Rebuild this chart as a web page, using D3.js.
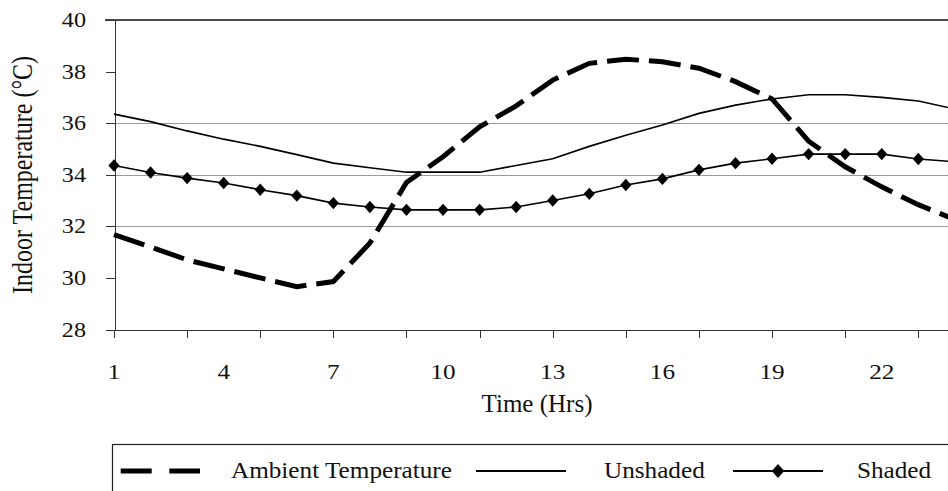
<!DOCTYPE html>
<html lang="en">
<head>
    <meta charset="UTF-8">
    <title>Indoor Temperature</title>
    <script src="https://d3js.org/d3.v7.min.js"></script>
    <style>
        html, body { margin: 0; padding: 0; background: #fff; overflow: hidden; }
        svg { display: block; }
        text { font-family: "Liberation Serif", "Times New Roman", serif; fill: #111; }
        .grid { stroke: #9a9a9a; stroke-width: 1px; }
        .axis path, .axis line { stroke: #333; stroke-width: 1px; shape-rendering: crispEdges; }
        .line { fill: none; stroke: #000; }
    </style>
</head>
<body>
<svg id="chart" width="948" height="491"></svg>

<script>
    // data, hours 1..24
    const hours = d3.range(1, 25);
    const ambient = [31.68, 31.2, 30.7, 30.35, 30.0, 29.66, 29.86, 31.35, 33.7, 34.7, 35.86, 36.67,
                     37.67, 38.32, 38.48, 38.38, 38.13, 37.61, 36.94, 35.3, 34.31, 33.53, 32.84, 32.26];
    const unshaded = [36.35, 36.06, 35.7, 35.38, 35.1, 34.78, 34.45, 34.27, 34.1, 34.1, 34.1, 34.36,
                      34.62, 35.1, 35.53, 35.93, 36.38, 36.7, 36.94, 37.1, 37.1, 37.0, 36.86, 36.55];
    const shaded = [34.36, 34.09, 33.87, 33.68, 33.42, 33.19, 32.9, 32.75, 32.64, 32.64, 32.64, 32.75,
                    33.0, 33.26, 33.6, 33.84, 34.19, 34.45, 34.62, 34.8, 34.8, 34.8, 34.61, 34.5];
    const yTicks = [28, 30, 32, 34, 36, 38, 40];
    const gridValues = [32, 34, 36];
    const xTickHours = [1, 3, 5, 7, 9, 11, 13, 15, 17, 19, 21, 23];
    const xLabelHours = [1, 4, 7, 10, 13, 16, 19, 22];
    const legendNames = ["Ambient Temperature", "Unshaded", "Shaded"];

    const svg = d3.select("#chart");

    // x(1)=114, x(23)=918.3 ; y(40)=20, y(28)=329.5
    const x = d3.scaleLinear().domain([1, 23]).range([114, 918.3]);
    const y = d3.scaleLinear().domain([28, 40]).range([329.5, 20]);

    // stretched text helper (the original fonts are a bit wider)
    function label(parent, px, py, str, size, sx, anchor) {
        return parent.append("text")
            .attr("transform", `translate(${px},${py}) scale(${sx},1)`)
            .attr("text-anchor", anchor || "middle")
            .style("font-size", size + "px")
            .text(str);
    }

    // gridlines
    svg.selectAll(".grid")
        .data(gridValues)
        .join("line")
        .attr("class", "grid")
        .attr("x1", x(1)).attr("x2", 948)
        .attr("y1", d => Math.round(y(d)) + 0.5)
        .attr("y2", d => Math.round(y(d)) + 0.5);

    // top border at 40
    svg.append("line")
        .attr("x1", 105).attr("x2", 948)
        .attr("y1", y(40)).attr("y2", y(40))
        .attr("stroke", "#111").attr("stroke-width", 1.6);

    // axes
    const yAxis = d3.axisLeft(y).tickValues(yTicks).tickSize(9).tickSizeOuter(0).tickFormat("");
    svg.append("g").attr("class", "axis")
        .attr("transform", `translate(${x(1) + 0.5},0)`)
        .call(yAxis);

    const xAxis = d3.axisBottom(x).tickValues(xTickHours).tickSize(8).tickSizeOuter(0).tickFormat("");
    const gx = svg.append("g").attr("class", "axis")
        .attr("transform", `translate(0,${y(28)})`)
        .call(xAxis);
    gx.select(".domain").attr("d", `M${x(1)},0.5H948`);

    yTicks.forEach(v => label(svg, 86, y(v) + 7, v, 21, 1.15, "end"));
    xLabelHours.forEach(h => label(svg, x(h), 379, h, 21, 1.2, "middle"));

    label(svg, 537, 412, "Time (Hrs)", 25, 1.0, "middle");

    svg.append("text")
        .attr("transform", `translate(32,175) scale(1.2,1) rotate(-90)`)
        .attr("text-anchor", "middle")
        .style("font-size", "24px")
        .text("Indoor Temperature (°C)");

    // series
    const line = d3.line().x((d, i) => x(hours[i])).y(d => y(d));

    svg.append("path").datum(unshaded)
        .attr("class", "line")
        .attr("stroke-width", 1.6)
        .attr("d", line);

    svg.append("path").datum(shaded)
        .attr("class", "line")
        .attr("stroke-width", 1.6)
        .attr("d", line);

    const diamond = "M0,-6.2L5.6,0L0,6.2L-5.6,0Z";
    svg.selectAll(".mark")
        .data(shaded)
        .join("path")
        .attr("class", "mark")
        .attr("transform", (d, i) => `translate(${x(hours[i])},${y(d)})`)
        .attr("d", diamond)
        .attr("fill", "#000");

    svg.append("path").datum(ambient)
        .attr("class", "line")
        .attr("stroke-width", 5)
        .attr("stroke-dasharray", "32,10")
        .attr("d", line);

    // legend
    const lg = svg.append("g");
    lg.append("rect")
        .attr("x", 112.5).attr("y", 444.5)
        .attr("width", 900).attr("height", 100)
        .attr("fill", "none").attr("stroke", "#222").attr("stroke-width", 1.2);

    const ly = 471;
    lg.append("line")
        .attr("x1", 120.7).attr("x2", 200).attr("y1", ly).attr("y2", ly)
        .attr("stroke", "#000").attr("stroke-width", 5)
        .attr("stroke-dasharray", "31,17.6");
    label(lg, 231, 478, legendNames[0], 24, 1.05, "start");

    lg.append("line")
        .attr("x1", 476).attr("x2", 566).attr("y1", ly).attr("y2", ly)
        .attr("stroke", "#000").attr("stroke-width", 2);
    label(lg, 604, 478, legendNames[1], 24, 1.05, "start");

    lg.append("line")
        .attr("x1", 733).attr("x2", 823).attr("y1", ly).attr("y2", ly)
        .attr("stroke", "#000").attr("stroke-width", 2);
    lg.append("path")
        .attr("transform", `translate(778,${ly})`)
        .attr("d", "M0,-7L6.2,0L0,7L-6.2,0Z")
        .attr("fill", "#000");
    label(lg, 857, 478, legendNames[2], 24, 1.05, "start");
</script>
</body>
</html>
